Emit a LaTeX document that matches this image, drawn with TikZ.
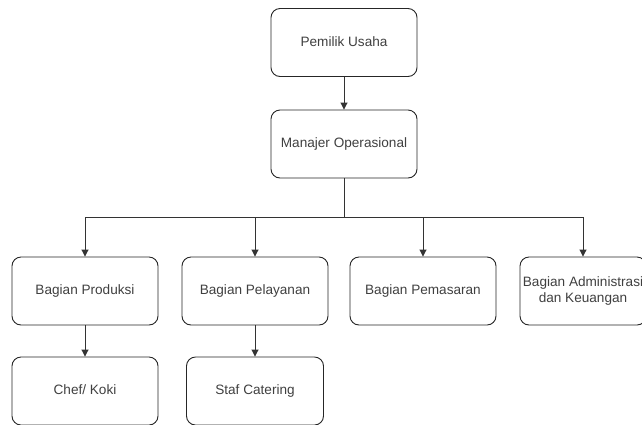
\documentclass[tikz,border=0pt]{standalone}
\usepackage{fontspec}
\setmainfont{Liberation Sans}
\usetikzlibrary{arrows.meta}
\begin{document}
\begin{tikzpicture}[x=1pt,y=-1pt,
  box/.style={draw=black!85, line width=0.9pt, rounded corners=9pt, minimum width=146pt, minimum height=68pt, inner sep=0pt, align=center, text=black!75, font=\fontsize{13.6}{16.5}\selectfont, text height=9.8pt, text depth=2.6pt},
  conn/.style={draw=black!80, line width=0.9pt},
  arr/.style={conn, -{Triangle[length=7pt,width=7pt]}}]
\useasboundingbox (0,0) rectangle (642,424);
\fill[white] (0,0) rectangle (642,424);
\node[box] (owner) at (344,42.5) {Pemilik Usaha};
\node[box] (mgr) at (344,144) {Manajer Operasional};
\node[box] (prod) at (85,291) {Bagian Produksi};
\node[box] (pel) at (255,291) {Bagian Pelayanan};
\node[box] (pem) at (423,291) {Bagian Pemasaran};
\node[box, minimum width=126pt, text height=, text depth=] (adm) at (583,291) {Bagian Administrasi\\dan Keuangan};
\node[box] (chef) at (85,391) {Chef/ Koki};
\node[box, minimum width=137pt] (staf) at (255,391) {Staf Catering};
\coordinate (hub) at (344,217);
\draw[arr] (owner) -- (mgr);
\draw[conn] (mgr.south) -- (hub);
\draw[arr] (hub) -| (prod.north);
\draw[arr] (hub) -| (pel.north);
\draw[arr] (hub) -| (pem.north);
\draw[arr] (hub) -| (adm.north);
\draw[arr] (prod) -- (chef);
\draw[arr] (pel) -- (staf);
\end{tikzpicture}
\end{document}
